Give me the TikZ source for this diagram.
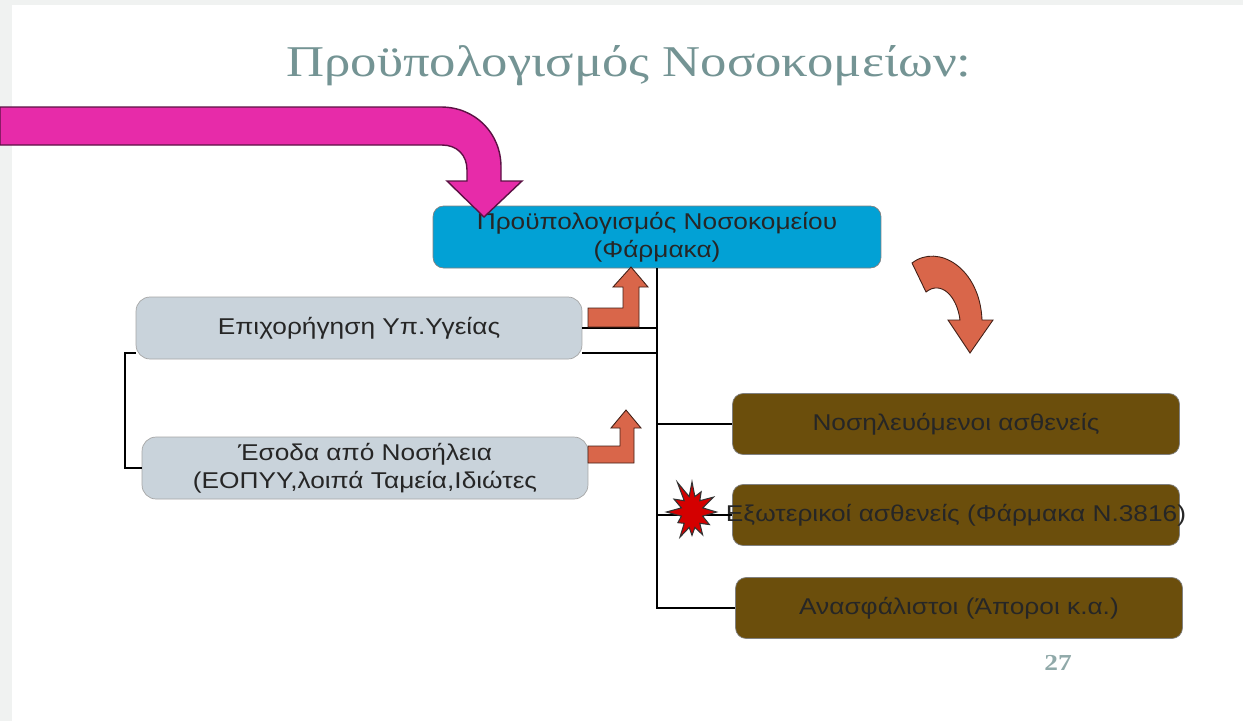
\documentclass[tikz,border=0pt]{standalone}
\usepackage{fontspec}
\setmainfont{Liberation Serif}
\newfontfamily\boxfont[FakeStretch=1.15]{Liberation Sans}
\newfontfamily\headfont[FakeStretch=1.2]{Liberation Serif}
\usetikzlibrary{shapes.symbols}

\definecolor{slidegray}{HTML}{F0F2F1}
\definecolor{headcol}{HTML}{749494}
\definecolor{budgetblue}{HTML}{02A1D5}
\definecolor{incomegray}{HTML}{C9D3DB}
\definecolor{patientbrown}{HTML}{6B4E0C}
\definecolor{bendorange}{HTML}{D9664A}
\definecolor{bigpink}{HTML}{E72BA9}
\definecolor{burstred}{HTML}{D40000}

\tikzset{
	boxtext/.style={align=center, text=black!85, font=\boxfont\fontsize{13}{16}\selectfont},
	budgetbox/.style={boxtext, draw=black!50, fill=budgetblue, rounded corners=6pt, minimum width=8.96cm, minimum height=1.24cm},
	incomebox/.style={boxtext, draw=black!35, fill=incomegray, rounded corners=8pt, minimum width=8.92cm, minimum height=1.24cm},
	patientbox/.style={boxtext, draw=black!50, fill=patientbrown, rounded corners=6pt, minimum width=8.94cm, minimum height=1.22cm},
	branch/.style={line width=1.1pt, black},
	bentarrow/.style={fill=bendorange, draw=black!70!bendorange, line width=0.5pt, line join=miter}
}

\begin{document}
\begin{tikzpicture}[x=0.02cm, y=-0.02cm]
		\useasboundingbox (0,0) rectangle (1243,721);
		\fill [slidegray] (0,0) rectangle (1243,721);
		\fill [white] (12,5) rectangle (1243,721);

		\node [font=\headfont\fontsize{25}{29}\selectfont, text=headcol] (title) at (629,66) {Προϋπολογισμός Νοσοκομείων:};

		\node [budgetbox] (budget) at (657,237) {Προϋπολογισμός Νοσοκομείου\\(Φάρμακα)};
		\node [incomebox] (grant) at (359,328) {Επιχορήγηση Υπ.Υγείας};
		\node [incomebox] (revenue) at (365,468) {Έσοδα από Νοσήλεια\\(ΕΟΠΥΥ,λοιπά Ταμεία,Ιδιώτες};

		\node [patientbox] (inpatient) at (956,424) {Νοσηλευόμενοι ασθενείς};
		\node [patientbox] (outpatient) at (956,515) {\makebox[0pt]{Εξωτερικοί ασθενείς (Φάρμακα Ν.3816)}};
		\node [patientbox] (uninsured) at (959,608) {Ανασφάλιστοι (Άποροι κ.α.)};

		\draw [branch] (budget.south) -- (budget.south |- uninsured.west) -- (uninsured.west);
		\draw [branch] (grant.east) -- (grant.east -| budget.south);
		\draw [branch] ([yshift=-0.5cm]grant.east) -- ([yshift=-0.5cm]grant.east -| budget.south);
		\draw [branch] ([yshift=-0.5cm]grant.west) -- ++(-11,0) |- (revenue.west);
		\draw [branch] (budget.south |- inpatient.west) -- (inpatient.west);
		\draw [branch] (budget.south |- outpatient.west) -- (outpatient.west);

		\filldraw [bentarrow] (588,327) -- (639,327) -- (639,287) -- (648,287) -- (631,267) -- (613,287) -- (623,287) -- (623,308) -- (588,308) -- cycle;
		\filldraw [bentarrow] (588,463) -- (634,463) -- (634,428) -- (641,428) -- (626,410) -- (611,428) -- (620,428) -- (620,446) -- (588,446) -- cycle;

		\filldraw [bentarrow] (912,263) .. controls (938,243) and (980,268) .. (982,320) -- (993,320) -- (970,353) -- (948,320) -- (960,320) .. controls (957,296) and (941,280) .. (926,292) -- cycle;

		\node [starburst, starburst points=12, starburst point height=0.38cm, minimum width=1.2cm, minimum height=1.4cm, random starburst=11, fill=burstred, draw=black!80, line width=0.6pt, inner sep=0pt] (burst) at (692,512) {};

		\filldraw [fill=bigpink, draw=black!60!bigpink, line width=0.8pt] (0,107) -- (441,107) .. controls (475,107) and (501,133) .. (501,167) -- (501,181) -- (522,181) -- (484,217) -- (447,181) -- (467,181) -- (467,170) .. controls (467,155) and (457,145) .. (442,145) -- (0,145) -- cycle;

		\node [font=\headfont\fontsize{13}{15}\selectfont\bfseries, text=headcol!80] (pagenum) at (1058,663) {27};
	\end{tikzpicture}
\end{document}
